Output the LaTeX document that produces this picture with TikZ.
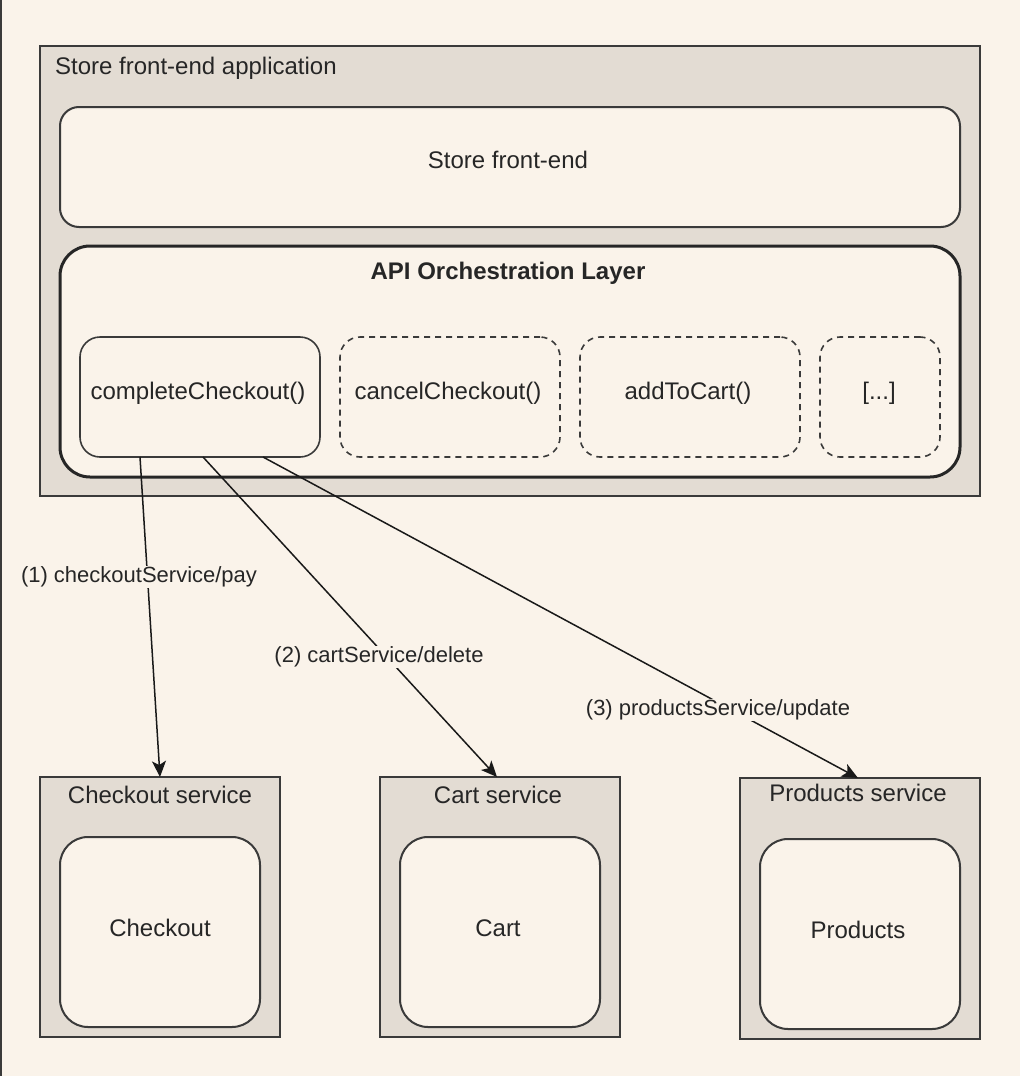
\documentclass[tikz,border=0pt]{standalone}
\usepackage{fontspec}
\setmainfont{Liberation Sans}
\usetikzlibrary{arrows.meta}
\definecolor{bgc}{HTML}{FAF3EA}
\definecolor{cont}{HTML}{E3DCD3}
\definecolor{ink}{HTML}{3A3A3A}
\begin{document}
\begin{tikzpicture}[x=1pt,y=-1pt,
  container/.style={draw=ink, fill=cont, line width=2pt, inner sep=0pt, outer sep=0pt},
  panel/.style={draw=ink, fill=bgc, line width=2pt, inner sep=0pt, outer sep=0pt, rounded corners=19pt},
  layer/.style={draw=black!85, fill=bgc, line width=3pt, inner sep=0pt, outer sep=0pt, rounded corners=30pt},
  method/.style={draw=ink, fill=bgc, line width=1.6pt, inner sep=0pt, outer sep=0pt, rounded corners=20pt, minimum height=120pt},
  dmethod/.style={method, dash pattern=on 6pt off 5pt},
  svcinner/.style={draw=ink, fill=bgc, line width=2pt, inner sep=0pt, outer sep=0pt, rounded corners=28pt, minimum width=200pt, minimum height=190pt},
  svc/.style={container, minimum width=240pt, minimum height=260pt},
  txt/.style={inner sep=0pt, text=black!85, font=\fontsize{24}{28}\selectfont, text height=17pt, text depth=5pt},
  lbl/.style={inner sep=1pt, fill=bgc, text=black!85, font=\fontsize{22}{26}\selectfont, text height=16pt, text depth=4.5pt},
  call/.style={draw=black!90, line width=1.5pt, -{Stealth[length=16pt, width=14pt, inset=4pt]}}
]
\fill[bgc] (0,0) rectangle (1020,1076);
\useasboundingbox (0,0) rectangle (1020,1076);
\draw[line width=2pt, ink] (1,0) -- (1,1076);

% application container
\node[container, minimum width=940pt, minimum height=450pt] (app) at (510,271) {};
\node[txt, anchor=west] (apptitle) at (55,68) {Store front-end application};

\node[panel, minimum width=900pt, minimum height=120pt] (sfe) at (510,167) {};
\node[txt] (sfetxt) at (508,162) {Store front-end};

\node[layer, minimum width=900pt, minimum height=231pt] (api) at (510,361.5) {};
\node[txt, font=\fontsize{24}{28}\selectfont\bfseries] (apitxt) at (508,273) {API Orchestration Layer};

\node[method, minimum width=240pt] (cc) at (200,397) {};
\node[dmethod, minimum width=220pt] (cancel) at (450,397) {};
\node[dmethod, minimum width=220pt] (add) at (690,397) {};
\node[dmethod, minimum width=120pt] (more) at (880,397) {};
\node[txt] (cctxt) at (198,393) {completeCheckout()};
\node[txt] (canceltxt) at (448,393) {cancelCheckout()};
\node[txt] (addtxt) at (688,393) {addToCart()};
\node[txt] (moretxt) at (879,393) {[...]};

% services
\node[svc] (chk) at (160,907) {};
\node[svcinner] (chki) at (160,932) {};
\node[txt] (chkt) at (160,797) {Checkout service};
\node[txt] (chkit) at (160,930) {Checkout};

\node[svc] (cart) at (500,907) {};
\node[svcinner] (carti) at (500,932) {};
\node[txt] (cartt) at (498,797) {Cart service};
\node[txt] (cartit) at (498,930) {Cart};

\node[svc, minimum height=261pt] (prod) at (860,908.5) {};
\node[svcinner] (prodi) at (860,934) {};
\node[txt] (prodt) at (858,795) {Products service};
\node[txt] (prodit) at (858,932) {Products};

% calls
\coordinate (s1) at (140,457);
\coordinate (s2) at (203,457);
\coordinate (s3) at (263,457);
\coordinate (e1) at (160,777);
\coordinate (e2) at (497,777);
\coordinate (e3) at (858,778);
\draw[call] (s1) -- (e1);
\draw[call] (s2) -- (e2);
\draw[call] (s3) -- (e3);
\node[lbl] (l1) at (139,577) {(1) checkoutService/pay};
\node[lbl] (l2) at (379,657) {(2) cartService/delete};
\node[lbl] (l3) at (718,710) {(3) productsService/update};
\end{tikzpicture}
\end{document}
